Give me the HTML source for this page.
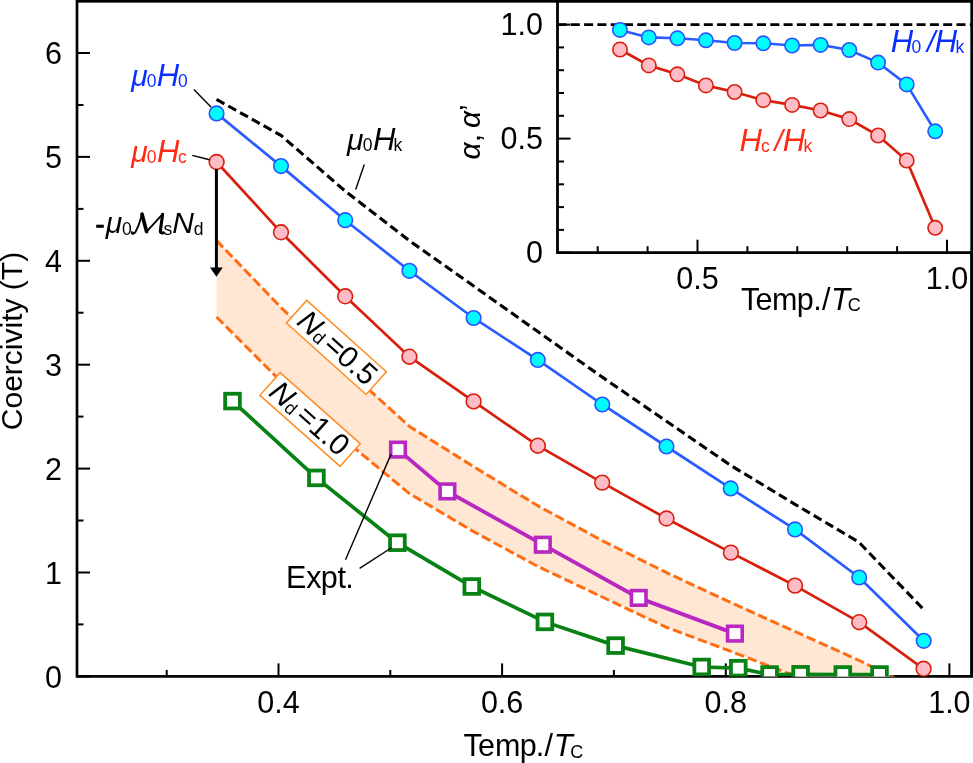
<!DOCTYPE html>
<html><head><meta charset="utf-8"><style>
html,body{margin:0;padding:0;background:#fff;width:973px;height:763px;overflow:hidden}
svg{display:block;will-change:transform}
text{font-family:'Liberation Sans', sans-serif}
</style></head><body>
<svg width="973" height="763" viewBox="0 0 973 763">
<rect width="973" height="763" fill="#fff"/>
<rect x="77.0" y="1.3" width="894.7" height="675.1" fill="none" stroke="#000" stroke-width="2.7"/>
<g stroke="#000" stroke-width="2"><line x1="77.0" y1="676.4" x2="90.0" y2="676.4"/><line x1="77.0" y1="624.4" x2="83.5" y2="624.4"/><line x1="77.0" y1="572.5" x2="90.0" y2="572.5"/><line x1="77.0" y1="520.5" x2="83.5" y2="520.5"/><line x1="77.0" y1="468.6" x2="90.0" y2="468.6"/><line x1="77.0" y1="416.6" x2="83.5" y2="416.6"/><line x1="77.0" y1="364.7" x2="90.0" y2="364.7"/><line x1="77.0" y1="312.7" x2="83.5" y2="312.7"/><line x1="77.0" y1="260.8" x2="90.0" y2="260.8"/><line x1="77.0" y1="208.9" x2="83.5" y2="208.9"/><line x1="77.0" y1="156.9" x2="90.0" y2="156.9"/><line x1="77.0" y1="105.0" x2="83.5" y2="105.0"/><line x1="77.0" y1="53.0" x2="90.0" y2="53.0"/><line x1="166.7" y1="676.4" x2="166.7" y2="669.9"/><line x1="278.5" y1="676.4" x2="278.5" y2="663.4"/><line x1="390.3" y1="676.4" x2="390.3" y2="669.9"/><line x1="502.1" y1="676.4" x2="502.1" y2="663.4"/><line x1="613.9" y1="676.4" x2="613.9" y2="669.9"/><line x1="725.8" y1="676.4" x2="725.8" y2="663.4"/><line x1="837.6" y1="676.4" x2="837.6" y2="669.9"/><line x1="949.4" y1="676.4" x2="949.4" y2="663.4"/></g>
<defs><clipPath id="pc"><rect x="77.0" y="1.3" width="894.7" height="675.3000000000001"/></clipPath></defs><g clip-path="url(#pc)">
<polygon points="216.5,240.5 281.0,307.5 345.2,368.2 409.4,426.4 473.6,466.6 537.8,505.8 602.2,540.6 666.5,572.6 730.9,602.6 795.0,631.5 859.2,660.5 923.6,692.0 923.6,715.0 859.2,700.0 795.0,676.0 730.9,651.4 666.5,627.3 602.2,597.0 537.8,566.4 473.6,531.6 409.4,493.6 345.2,440.4 281.0,381.5 216.5,317.0" fill="#ffe7d3"/>
<polyline points="216.5,240.5 281.0,307.5 345.2,368.2 409.4,426.4 473.6,466.6 537.8,505.8 602.2,540.6 666.5,572.6 730.9,602.6 795.0,631.5 859.2,660.5 923.6,692.0" fill="none" stroke="#ff6c12" stroke-width="3" stroke-dasharray="9.5,3.8"/>
<polyline points="216.5,317.0 281.0,381.5 345.2,440.4 409.4,493.6 473.6,531.6 537.8,566.4 602.2,597.0 666.5,627.3 730.9,651.4 795.0,676.0 859.2,700.0 923.6,715.0" fill="none" stroke="#ff6c12" stroke-width="3" stroke-dasharray="9.5,3.8"/>
<polyline points="216.5,99.4 281.0,135.4 345.2,191.1 409.4,240.7 473.6,286.0 537.8,331.6 602.2,377.1 666.5,421.3 730.9,465.5 795.0,504.3 858.7,542.0 923.4,609.3" fill="none" stroke="#000" stroke-width="3.1" stroke-dasharray="9,4.5"/>
<polyline points="216.6,113.4 281.0,166.1 345.2,220.2 409.4,270.8 473.6,318.0 537.8,359.9 602.3,404.5 666.5,446.5 730.7,488.4 795.0,529.4 859.2,577.5 923.7,640.8" fill="none" stroke="#2b5cff" stroke-width="2.7"/>
<polyline points="216.6,162.0 281.0,232.3 345.2,296.3 409.4,356.7 473.6,401.4 537.8,445.7 602.2,482.6 666.5,518.5 730.9,552.6 795.0,585.6 859.2,622.2 923.6,668.8" fill="none" stroke="#d8200e" stroke-width="2.7"/>
<polyline points="398.0,449.6 447.4,491.4 542.8,544.7 638.7,597.9 734.9,633.6" fill="none" stroke="#b828c0" stroke-width="3.8"/>
<polyline points="232.5,401.1 316.4,477.9 397.4,542.7 471.8,586.5 544.9,621.9 615.6,645.6 701.7,667.0 738.3,668.2 769.6,674.5 800.6,674.3 842.8,674.5 879.5,674.5" fill="none" stroke="#088214" stroke-width="3.7"/>
<circle cx="216.6" cy="113.4" r="7.3" fill="#00fcff" stroke="#2a52ff" stroke-width="1.6"/>
<circle cx="281" cy="166.1" r="7.3" fill="#00fcff" stroke="#2a52ff" stroke-width="1.6"/>
<circle cx="345.2" cy="220.2" r="7.3" fill="#00fcff" stroke="#2a52ff" stroke-width="1.6"/>
<circle cx="409.4" cy="270.8" r="7.3" fill="#00fcff" stroke="#2a52ff" stroke-width="1.6"/>
<circle cx="473.6" cy="318" r="7.3" fill="#00fcff" stroke="#2a52ff" stroke-width="1.6"/>
<circle cx="537.8" cy="359.9" r="7.3" fill="#00fcff" stroke="#2a52ff" stroke-width="1.6"/>
<circle cx="602.3" cy="404.5" r="7.3" fill="#00fcff" stroke="#2a52ff" stroke-width="1.6"/>
<circle cx="666.5" cy="446.5" r="7.3" fill="#00fcff" stroke="#2a52ff" stroke-width="1.6"/>
<circle cx="730.7" cy="488.4" r="7.3" fill="#00fcff" stroke="#2a52ff" stroke-width="1.6"/>
<circle cx="795" cy="529.4" r="7.3" fill="#00fcff" stroke="#2a52ff" stroke-width="1.6"/>
<circle cx="859.2" cy="577.5" r="7.3" fill="#00fcff" stroke="#2a52ff" stroke-width="1.6"/>
<circle cx="923.7" cy="640.8" r="7.3" fill="#00fcff" stroke="#2a52ff" stroke-width="1.6"/>
<circle cx="216.6" cy="162" r="7.4" fill="#ffbcc6" stroke="#d8200e" stroke-width="1.6"/>
<circle cx="281" cy="232.3" r="7.4" fill="#ffbcc6" stroke="#d8200e" stroke-width="1.6"/>
<circle cx="345.2" cy="296.3" r="7.4" fill="#ffbcc6" stroke="#d8200e" stroke-width="1.6"/>
<circle cx="409.4" cy="356.7" r="7.4" fill="#ffbcc6" stroke="#d8200e" stroke-width="1.6"/>
<circle cx="473.6" cy="401.4" r="7.4" fill="#ffbcc6" stroke="#d8200e" stroke-width="1.6"/>
<circle cx="537.8" cy="445.7" r="7.4" fill="#ffbcc6" stroke="#d8200e" stroke-width="1.6"/>
<circle cx="602.2" cy="482.6" r="7.4" fill="#ffbcc6" stroke="#d8200e" stroke-width="1.6"/>
<circle cx="666.5" cy="518.5" r="7.4" fill="#ffbcc6" stroke="#d8200e" stroke-width="1.6"/>
<circle cx="730.9" cy="552.6" r="7.4" fill="#ffbcc6" stroke="#d8200e" stroke-width="1.6"/>
<circle cx="795" cy="585.6" r="7.4" fill="#ffbcc6" stroke="#d8200e" stroke-width="1.6"/>
<circle cx="859.2" cy="622.2" r="7.4" fill="#ffbcc6" stroke="#d8200e" stroke-width="1.6"/>
<circle cx="923.6" cy="668.8" r="7.4" fill="#ffbcc6" stroke="#d8200e" stroke-width="1.6"/>
<rect x="390.7" y="442.3" width="14.6" height="14.6" fill="#fff" stroke="#b828c0" stroke-width="3.6"/>
<rect x="440.09999999999997" y="484.09999999999997" width="14.6" height="14.6" fill="#fff" stroke="#b828c0" stroke-width="3.6"/>
<rect x="535.5" y="537.4000000000001" width="14.6" height="14.6" fill="#fff" stroke="#b828c0" stroke-width="3.6"/>
<rect x="631.4000000000001" y="590.6" width="14.6" height="14.6" fill="#fff" stroke="#b828c0" stroke-width="3.6"/>
<rect x="727.6" y="626.3000000000001" width="14.6" height="14.6" fill="#fff" stroke="#b828c0" stroke-width="3.6"/>
<rect x="225.15" y="393.75" width="14.7" height="14.7" fill="#fff" stroke="#088214" stroke-width="3.8"/>
<rect x="309.04999999999995" y="470.54999999999995" width="14.7" height="14.7" fill="#fff" stroke="#088214" stroke-width="3.8"/>
<rect x="390.04999999999995" y="535.35" width="14.7" height="14.7" fill="#fff" stroke="#088214" stroke-width="3.8"/>
<rect x="464.45" y="579.15" width="14.7" height="14.7" fill="#fff" stroke="#088214" stroke-width="3.8"/>
<rect x="537.55" y="614.55" width="14.7" height="14.7" fill="#fff" stroke="#088214" stroke-width="3.8"/>
<rect x="608.25" y="638.25" width="14.7" height="14.7" fill="#fff" stroke="#088214" stroke-width="3.8"/>
<rect x="694.35" y="659.65" width="14.7" height="14.7" fill="#fff" stroke="#088214" stroke-width="3.8"/>
<rect x="730.9499999999999" y="660.85" width="14.7" height="14.7" fill="#fff" stroke="#088214" stroke-width="3.8"/>
<rect x="762.25" y="667.15" width="14.7" height="14.7" fill="#fff" stroke="#088214" stroke-width="3.8"/>
<rect x="793.25" y="666.9499999999999" width="14.7" height="14.7" fill="#fff" stroke="#088214" stroke-width="3.8"/>
<rect x="835.4499999999999" y="667.15" width="14.7" height="14.7" fill="#fff" stroke="#088214" stroke-width="3.8"/>
<rect x="872.15" y="667.15" width="14.7" height="14.7" fill="#fff" stroke="#088214" stroke-width="3.8"/>
</g>
<line x1="216.4" y1="169" x2="216.4" y2="270" stroke="#000" stroke-width="3"/>
<polygon points="210,267.5 222.8,267.5 216.4,276.7" fill="#000"/>
<g stroke="#000" stroke-width="1.4">
<line x1="193.9" y1="89.6" x2="211.2" y2="107.2"/>
<line x1="192.3" y1="155.4" x2="209.6" y2="159.8"/>
<line x1="364.3" y1="164.4" x2="355.7" y2="189.6"/>
<line x1="345.5" y1="559.7" x2="391.1" y2="454.1"/>
<line x1="359.6" y1="568.4" x2="391.1" y2="548"/>
</g>
<g transform="translate(336.4,347.4) rotate(41.9)"><rect x="-53.5" y="-15.2" width="107" height="30.4" fill="#fff" stroke="#ff8c24" stroke-width="1.5"/><text x="-46.5" y="9.5" font-size="30" fill="#000"><tspan font-style="italic">N</tspan><tspan font-size="18" dy="1">d</tspan><tspan dy="-1" dx="4">=</tspan>0.5</text></g>
<g transform="translate(310.1,419.5) rotate(41.5)"><rect x="-53.5" y="-15.2" width="107" height="30.4" fill="#fff" stroke="#ff8c24" stroke-width="1.5"/><text x="-48.5" y="9.5" font-size="30" fill="#000"><tspan font-style="italic">N</tspan><tspan font-size="18" dy="1">d</tspan><tspan dy="-1" dx="4">=</tspan>1.0</text></g>
<text x="62" y="687.6" font-size="30.5" text-anchor="end">0</text>
<text x="62" y="583.7" font-size="30.5" text-anchor="end">1</text>
<text x="62" y="479.8" font-size="30.5" text-anchor="end">2</text>
<text x="62" y="375.9" font-size="30.5" text-anchor="end">3</text>
<text x="62" y="272.0" font-size="30.5" text-anchor="end">4</text>
<text x="62" y="168.1" font-size="30.5" text-anchor="end">5</text>
<text x="62" y="64.2" font-size="30.5" text-anchor="end">6</text>
<text x="278.5" y="712.5" font-size="30.5" text-anchor="middle">0.4</text>
<text x="502.1" y="712.5" font-size="30.5" text-anchor="middle">0.6</text>
<text x="725.8" y="712.5" font-size="30.5" text-anchor="middle">0.8</text>
<text x="949.4" y="712.5" font-size="30.5" text-anchor="middle">1.0</text>
<text transform="translate(21.5,430.2) rotate(-90)" font-size="30">Coercivity (T)</text>
<text x="463.61" y="756.1" font-size="30.5" fill="#000">T</text>
<text x="478.10" y="756.1" font-size="30.5" fill="#000">e</text>
<text x="495.07" y="756.1" font-size="30.5" fill="#000">m</text>
<text x="519.73" y="756.1" font-size="30.5" fill="#000">p</text>
<text x="535.82" y="756.1" font-size="30.5" fill="#000">.</text>
<text x="544.40" y="756.1" font-size="30.5" fill="#000">/</text>
<text x="553.71" y="756.1" font-size="31" font-style="italic" fill="#000">T</text>
<text x="570.29" y="757.5" font-size="18" fill="#000">C</text>
<text x="131.13" y="85.8" font-size="30" font-style="italic" fill="#0a2eff">μ</text><text x="146.72" y="87.1" font-size="17.5" fill="#0a2eff">0</text><text x="156.65" y="85.8" font-size="31" font-style="italic" fill="#0a2eff">H</text><text x="178.02" y="87.1" font-size="17.5" fill="#0a2eff">0</text>
<text x="131.13" y="161.8" font-size="30" font-style="italic" fill="#ff2a14">μ</text><text x="146.72" y="163.1" font-size="17.5" fill="#ff2a14">0</text><text x="156.95" y="161.8" font-size="31" font-style="italic" fill="#ff2a14">H</text><text x="177.96" y="163.1" font-size="17.5" fill="#ff2a14">c</text>
<text x="347.03" y="149.8" font-size="30" font-style="italic" fill="#000">μ</text><text x="362.72" y="151.1" font-size="17.5" fill="#000">0</text><text x="372.95" y="149.8" font-size="31" font-style="italic" fill="#000">H</text><text x="393.62" y="151.1" font-size="17.5" fill="#000">k</text>
<rect x="96.2" y="224.7" width="7.6" height="3.1" fill="#000"/><text x="105.83" y="233.3" font-size="30" font-style="italic" fill="#000">μ</text><text x="121.92" y="234.6" font-size="17.5" fill="#000">0</text>
<text x="163.6" y="234.60000000000002" font-size="17.5">s</text>
<text x="172.2" y="233.3" font-size="30" fill="#000"><tspan font-style="italic">N</tspan><tspan font-size="17.5" dy="1.3">d</tspan></text>
<g fill="none" stroke="#000" stroke-linecap="round" stroke-linejoin="round"><path d="M131.6,232.2 Q132.6,235 135.3,232.3 Q139.2,225 142,214.2" stroke-width="1.9"/><path d="M142,214.2 L146.6,231.6" stroke-width="3.7"/><path d="M146.6,231.6 L162.6,214.2" stroke-width="1.9"/><path d="M162.6,214.2 L160.3,231.2 Q160.4,233.4 163.2,232.9" stroke-width="3.1"/></g><circle cx="132.6" cy="233.1" r="1.7" fill="#000"/>
<text x="285.90" y="588.3" font-size="30.5" fill="#000">E</text>
<text x="306.16" y="588.3" font-size="30.5" fill="#000">x</text>
<text x="320.83" y="588.3" font-size="30.5" fill="#000">p</text>
<text x="337.54" y="588.3" font-size="30.5" fill="#000">t</text>
<text x="345.22" y="588.3" font-size="30.5" fill="#000">.</text>
<rect x="557.5" y="1.3" width="414.20000000000005" height="251.39999999999998" fill="#fff"/>
<line x1="557.5" y1="24.6" x2="971.7" y2="24.6" stroke="#000" stroke-width="2.8" stroke-dasharray="9,4.3"/>
<polyline points="619.9,29.9 648.8,37.4 677.4,38.3 705.9,40.3 734.6,43.0 763.3,43.3 792.1,45.5 820.6,44.9 849.3,50.0 878.1,62.6 906.7,84.4 935.2,131.3" fill="none" stroke="#2b5cff" stroke-width="2.6"/>
<polyline points="620.0,49.5 648.8,65.4 677.4,74.3 705.9,85.4 734.6,92.0 763.3,100.2 792.1,104.9 820.6,110.5 849.3,119.1 878.1,135.5 906.7,160.5 935.2,227.8" fill="none" stroke="#d8200e" stroke-width="2.7"/>
<circle cx="619.9" cy="29.9" r="7.2" fill="#00fcff" stroke="#2a52ff" stroke-width="1.6"/>
<circle cx="648.8" cy="37.4" r="7.2" fill="#00fcff" stroke="#2a52ff" stroke-width="1.6"/>
<circle cx="677.4" cy="38.3" r="7.2" fill="#00fcff" stroke="#2a52ff" stroke-width="1.6"/>
<circle cx="705.9" cy="40.3" r="7.2" fill="#00fcff" stroke="#2a52ff" stroke-width="1.6"/>
<circle cx="734.6" cy="43.0" r="7.2" fill="#00fcff" stroke="#2a52ff" stroke-width="1.6"/>
<circle cx="763.3" cy="43.3" r="7.2" fill="#00fcff" stroke="#2a52ff" stroke-width="1.6"/>
<circle cx="792.1" cy="45.5" r="7.2" fill="#00fcff" stroke="#2a52ff" stroke-width="1.6"/>
<circle cx="820.6" cy="44.9" r="7.2" fill="#00fcff" stroke="#2a52ff" stroke-width="1.6"/>
<circle cx="849.3" cy="50.0" r="7.2" fill="#00fcff" stroke="#2a52ff" stroke-width="1.6"/>
<circle cx="878.1" cy="62.6" r="7.2" fill="#00fcff" stroke="#2a52ff" stroke-width="1.6"/>
<circle cx="906.7" cy="84.4" r="7.2" fill="#00fcff" stroke="#2a52ff" stroke-width="1.6"/>
<circle cx="935.2" cy="131.3" r="7.2" fill="#00fcff" stroke="#2a52ff" stroke-width="1.6"/>
<circle cx="620" cy="49.5" r="7.2" fill="#ffbcc6" stroke="#d8200e" stroke-width="1.6"/>
<circle cx="648.8" cy="65.4" r="7.2" fill="#ffbcc6" stroke="#d8200e" stroke-width="1.6"/>
<circle cx="677.4" cy="74.3" r="7.2" fill="#ffbcc6" stroke="#d8200e" stroke-width="1.6"/>
<circle cx="705.9" cy="85.4" r="7.2" fill="#ffbcc6" stroke="#d8200e" stroke-width="1.6"/>
<circle cx="734.6" cy="92.0" r="7.2" fill="#ffbcc6" stroke="#d8200e" stroke-width="1.6"/>
<circle cx="763.3" cy="100.2" r="7.2" fill="#ffbcc6" stroke="#d8200e" stroke-width="1.6"/>
<circle cx="792.1" cy="104.9" r="7.2" fill="#ffbcc6" stroke="#d8200e" stroke-width="1.6"/>
<circle cx="820.6" cy="110.5" r="7.2" fill="#ffbcc6" stroke="#d8200e" stroke-width="1.6"/>
<circle cx="849.3" cy="119.1" r="7.2" fill="#ffbcc6" stroke="#d8200e" stroke-width="1.6"/>
<circle cx="878.1" cy="135.5" r="7.2" fill="#ffbcc6" stroke="#d8200e" stroke-width="1.6"/>
<circle cx="906.7" cy="160.5" r="7.2" fill="#ffbcc6" stroke="#d8200e" stroke-width="1.6"/>
<circle cx="935.2" cy="227.8" r="7.2" fill="#ffbcc6" stroke="#d8200e" stroke-width="1.6"/>
<polyline points="555.5,1.3 971.7,1.3 971.7,676.4" fill="none" stroke="#000" stroke-width="2.7"/>
<polyline points="557.5,1.3 557.5,252.7 971.7,252.7" fill="none" stroke="#000" stroke-width="2.8"/>
<g stroke="#000" stroke-width="2"><line x1="557.5" y1="252.7" x2="570.5" y2="252.7"/><line x1="557.5" y1="229.9" x2="564.0" y2="229.9"/><line x1="557.5" y1="207.1" x2="564.0" y2="207.1"/><line x1="557.5" y1="184.3" x2="564.0" y2="184.3"/><line x1="557.5" y1="161.5" x2="564.0" y2="161.5"/><line x1="557.5" y1="138.6" x2="570.5" y2="138.6"/><line x1="557.5" y1="115.8" x2="564.0" y2="115.8"/><line x1="557.5" y1="93.0" x2="564.0" y2="93.0"/><line x1="557.5" y1="70.2" x2="564.0" y2="70.2"/><line x1="557.5" y1="47.4" x2="564.0" y2="47.4"/><line x1="557.5" y1="24.6" x2="570.5" y2="24.6"/><line x1="597.7" y1="252.7" x2="597.7" y2="246.2"/><line x1="647.6" y1="252.7" x2="647.6" y2="246.2"/><line x1="697.5" y1="252.7" x2="697.5" y2="239.7"/><line x1="747.4" y1="252.7" x2="747.4" y2="246.2"/><line x1="797.3" y1="252.7" x2="797.3" y2="246.2"/><line x1="847.2" y1="252.7" x2="847.2" y2="246.2"/><line x1="897.1" y1="252.7" x2="897.1" y2="246.2"/><line x1="947.0" y1="252.7" x2="947.0" y2="239.7"/></g>
<text x="543" y="263.3" font-size="30.5" text-anchor="end">0</text>
<text x="543" y="149.2" font-size="30.5" text-anchor="end">0.5</text>
<text x="543" y="35.2" font-size="30.5" text-anchor="end">1.0</text>
<text x="697.5" y="288.8" font-size="30.5" text-anchor="middle">0.5</text>
<text x="947.0" y="288.8" font-size="30.5" text-anchor="middle">1.0</text>
<text x="741.11" y="309.8" font-size="30.5" fill="#000">T</text>
<text x="755.60" y="309.8" font-size="30.5" fill="#000">e</text>
<text x="772.07" y="309.8" font-size="30.5" fill="#000">m</text>
<text x="796.73" y="309.8" font-size="30.5" fill="#000">p</text>
<text x="813.22" y="309.8" font-size="30.5" fill="#000">.</text>
<text x="822.10" y="309.8" font-size="30.5" fill="#000">/</text>
<text x="831.11" y="309.8" font-size="31" font-style="italic" fill="#000">T</text>
<text x="847.69" y="311.3" font-size="18" fill="#000">C</text>
<text transform="translate(480.4,159.4) rotate(-90)" font-size="30"><tspan font-style="italic">α</tspan>, <tspan font-style="italic" dx="-2.4">α</tspan>’</text>
<text x="890.65" y="51.9" font-size="31" font-style="italic" fill="#0a2eff">H</text><text x="911.42" y="53.3" font-size="17.5" fill="#0a2eff">0</text><text x="927.00" y="51.9" font-size="30" font-style="italic" fill="#0a2eff">/</text><text x="934.65" y="51.9" font-size="31" font-style="italic" fill="#0a2eff">H</text><text x="955.42" y="53.3" font-size="17.5" fill="#0a2eff">k</text>
<text x="739.45" y="150.9" font-size="31" font-style="italic" fill="#ff2a14">H</text><text x="761.06" y="152.3" font-size="17.5" fill="#ff2a14">c</text><text x="774.60" y="150.9" font-size="30" font-style="italic" fill="#ff2a14">/</text><text x="782.65" y="150.9" font-size="31" font-style="italic" fill="#ff2a14">H</text><text x="803.42" y="152.3" font-size="17.5" fill="#ff2a14">k</text>
</svg></body></html>
